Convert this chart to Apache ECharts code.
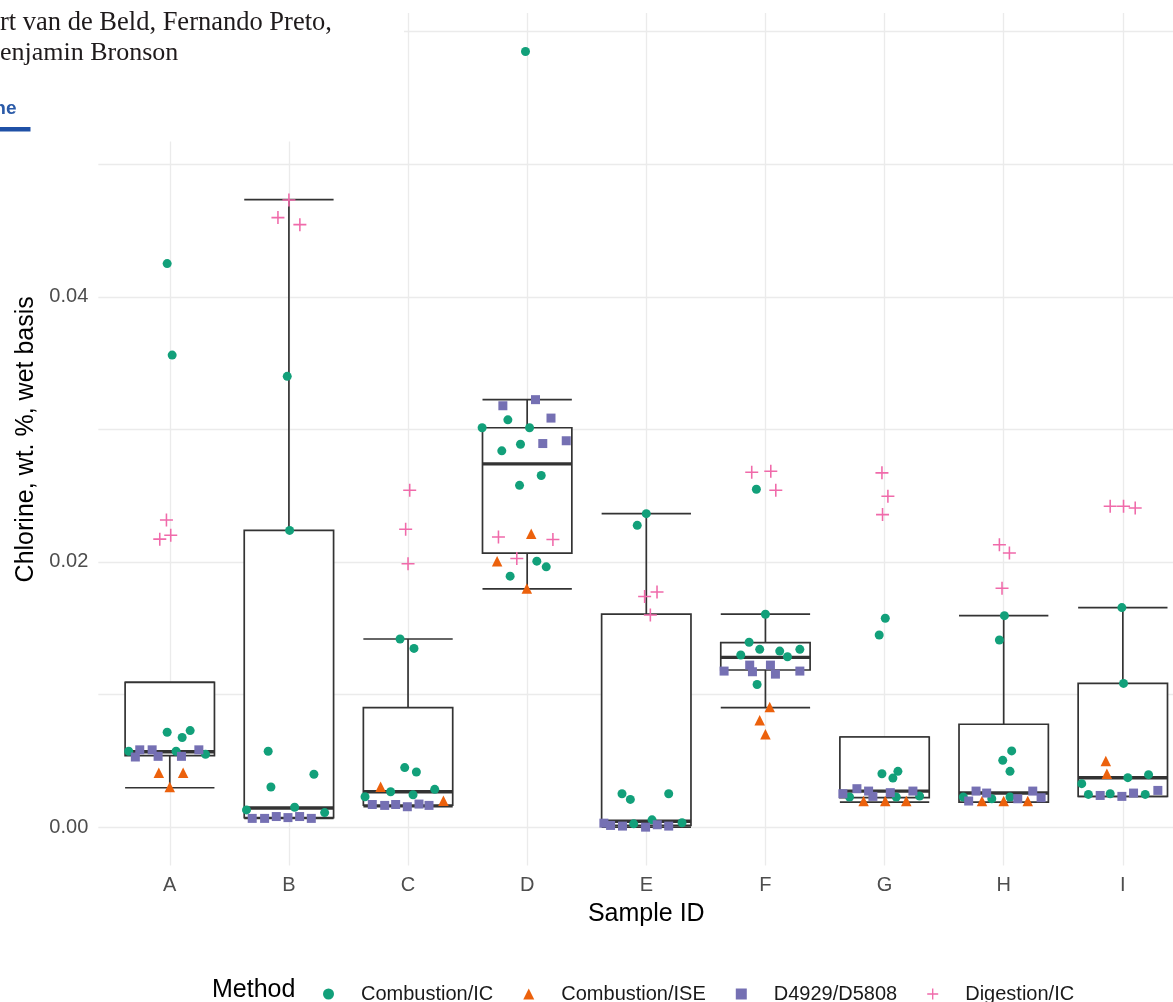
<!DOCTYPE html>
<html>
<head>
<meta charset="utf-8">
<script src="https://cdn.jsdelivr.net/npm/echarts@6/dist/echarts.min.js"></script>
<style>
  html, body { margin: 0; padding: 0; overflow: hidden; background: #ffffff; }
  #chart { width: 1200px; height: 1002px; }
</style>
</head>
<body>
<div id="chart"></div>
<script>
// Sample IDs along the x axis
const samples = ['A', 'B', 'C', 'D', 'E', 'F', 'G', 'H', 'I'];

// y axis: labelled breaks and gridline breaks
const yLabelBreaks = [0, 0.02, 0.04];
const yGridBreaks = [0, 0.01, 0.02, 0.03, 0.04, 0.05, 0.06];

// Box summaries per sample (lower whisker, Q1, median, Q3, upper whisker)
const boxLow    = [0.00297, 0.00066, 0.00154, 0.01797, 0.00000, 0.00902, 0.00189, 0.00189, 0.00232];
const boxQ1     = [0.00540, 0.00072, 0.00166, 0.02067, 0.00013, 0.01185, 0.00222, 0.00189, 0.00232];
const boxMedian = [0.00569, 0.00144, 0.00267, 0.02740, 0.00045, 0.01280, 0.00272, 0.00257, 0.00373];
const boxQ3     = [0.01092, 0.02238, 0.00902, 0.03012, 0.01606, 0.01391, 0.00680, 0.00776, 0.01084];
const boxHigh   = [0.01092, 0.04733, 0.01419, 0.03224, 0.02364, 0.01606, 0.00680, 0.01595, 0.01656];

// Measurements: [sample, chlorine wt. %]
const combustionIC = [
  ['A', 0.0425], ['A', 0.0356], ['A', 0.00716], ['A', 0.00676], ['A', 0.00728], ['A', 0.00572], ['A', 0.00572], ['A', 0.00549],
  ['B', 0.0340], ['B', 0.02238], ['B', 0.00572], ['B', 0.00303], ['B', 0.00399], ['B', 0.0013], ['B', 0.0015], ['B', 0.0011],
  ['C', 0.01419], ['C', 0.01348], ['C', 0.00449], ['C', 0.00416], ['C', 0.00267], ['C', 0.00244], ['C', 0.00285], ['C', 0.00229],
  ['D', 0.0585], ['D', 0.03072], ['D', 0.03012], ['D', 0.03012], ['D', 0.02888], ['D', 0.02838], ['D', 0.02652], ['D', 0.02578], ['D', 0.02006], ['D', 0.01963], ['D', 0.01893],
  ['E', 0.02364], ['E', 0.02276], ['E', 0.00252], ['E', 0.00209], ['E', 0.00252], ['E', 0.00055], ['E', 0.00025], ['E', 0.00033],
  ['F', 0.02548], ['F', 0.01606], ['F', 0.01394], ['F', 0.01341], ['F', 0.01328], ['F', 0.01341], ['F', 0.01298], ['F', 0.01285], ['F', 0.01076],
  ['G', 0.01575], ['G', 0.01449], ['G', 0.00403], ['G', 0.0037], ['G', 0.00421], ['G', 0.00227], ['G', 0.00227], ['G', 0.00234],
  ['H', 0.01595], ['H', 0.01411], ['H', 0.00575], ['H', 0.00504], ['H', 0.00421], ['H', 0.00227], ['H', 0.00214], ['H', 0.00227],
  ['I', 0.01656], ['I', 0.01084], ['I', 0.00373], ['I', 0.00396], ['I', 0.00328], ['I', 0.00247], ['I', 0.00252], ['I', 0.00247]
];
const combustionICJitter = [
  -0.022, 0.02, -0.022, 0.104, 0.171, -0.345, 0.053, 0.30,
  -0.014, 0.006, -0.174, -0.151, 0.21, -0.356, 0.048, 0.30,
  -0.067, 0.05, -0.028, 0.07, -0.146, 0.042, 0.224, -0.361,
  -0.014, -0.162, -0.378, 0.02, -0.056, -0.213, 0.118, -0.064, 0.081, 0.16, -0.143,
  0, -0.076, -0.204, -0.134, 0.188, 0.048, -0.106, 0.30,
  -0.076, 0, -0.137, -0.048, 0.12, 0.289, -0.207, 0.185, -0.07,
  0.006, -0.045, -0.022, 0.07, 0.112, -0.294, 0.098, 0.294,
  0.006, -0.036, 0.067, -0.008, 0.053, -0.339, -0.1, 0.053,
  -0.008, 0.006, 0.042, 0.216, -0.345, -0.289, -0.106, 0.188
];

const combustionISE = [
  ['A', 0.0041], ['A', 0.0041], ['A', 0.00303],
  ['C', 0.00305], ['C', 0.00199],
  ['D', 0.02213], ['D', 0.02006], ['D', 0.0180],
  ['F', 0.00907], ['F', 0.00807], ['F', 0.00701],
  ['G', 0.00197], ['G', 0.00197], ['G', 0.00197],
  ['H', 0.00197], ['H', 0.00197], ['H', 0.00197],
  ['I', 0.00499], ['I', 0.00403]
];
const combustionISEJitter = [
  -0.092, 0.112, 0,
  -0.23, 0.297,
  0.034, -0.252, -0.003,
  0.036, -0.048, 0,
  -0.176, 0.006, 0.182,
  -0.182, 0, 0.202,
  -0.143, -0.134
];

const d4929 = [
  ['A', 0.00583], ['A', 0.00583], ['A', 0.00529], ['A', 0.00534], ['A', 0.00583], ['A', 0.00534],
  ['B', 0.00066], ['B', 0.00066], ['B', 0.0008], ['B', 0.00072], ['B', 0.0008], ['B', 0.00066],
  ['C', 0.00171], ['C', 0.00164], ['C', 0.00171], ['C', 0.00154], ['C', 0.00174], ['C', 0.00164],
  ['D', 0.03224], ['D', 0.03178], ['D', 0.03085], ['D', 0.02893], ['D', 0.02914],
  ['E', 0.0003], ['E', 0.00013], ['E', 0.00008], ['E', 0.0], ['E', 0.00018], ['E', 0.00008],
  ['F', 0.01177], ['F', 0.01222], ['F', 0.01172], ['F', 0.01222], ['F', 0.01154], ['F', 0.01177],
  ['G', 0.00252], ['G', 0.0029], ['G', 0.00272], ['G', 0.00232], ['G', 0.0026], ['G', 0.00272],
  ['H', 0.00272], ['H', 0.00257], ['H', 0.00197], ['H', 0.00214], ['H', 0.00272], ['H', 0.00222],
  ['I', 0.00239], ['I', 0.00232], ['I', 0.00257], ['I', 0.00277]
];
const d4929Jitter = [
  -0.252, -0.148, -0.289, -0.098, 0.244, 0.098,
  -0.308, -0.204, -0.106, -0.008, 0.09, 0.188,
  -0.30, -0.196, -0.104, -0.006, 0.092, 0.176,
  0.07, -0.204, 0.20, 0.131, 0.328,
  -0.356, -0.30, -0.20, -0.006, 0.092, 0.188,
  -0.347, -0.132, -0.109, 0.042, 0.084, 0.289,
  -0.35, -0.232, -0.134, -0.098, 0.048, 0.238,
  -0.232, -0.143, -0.294, 0.118, 0.244, 0.314,
  -0.19, -0.008, 0.09, 0.294
];

const digestionIC = [
  ['A', 0.02316], ['A', 0.02172], ['A', 0.02201],
  ['B', 0.0473], ['B', 0.04597], ['B', 0.04544],
  ['C', 0.02541], ['C', 0.02246], ['C', 0.01986],
  ['D', 0.02188], ['D', 0.0217], ['D', 0.02026],
  ['E', 0.01739], ['E', 0.01774], ['E', 0.0160],
  ['F', 0.02677], ['F', 0.02684], ['F', 0.02541],
  ['G', 0.02672], ['G', 0.02495], ['G', 0.02357],
  ['H', 0.0213], ['H', 0.02067], ['H', 0.01802],
  ['I', 0.0242], ['I', 0.0242], ['I', 0.02407]
];
const digestionICJitter = [
  -0.028, -0.084, 0.008,
  0, -0.092, 0.092,
  0.014, -0.02, 0,
  -0.241, 0.216, -0.087,
  -0.014, 0.09, 0.034,
  -0.115, 0.045, 0.087,
  -0.022, 0.028, -0.017,
  -0.036, 0.048, -0.014,
  -0.106, 0.006, 0.104
];

const methodNames = ['Combustion/IC', 'Combustion/ISE', 'D4929/D5808', 'Digestion/IC'];
const methodColors = ['#12a07a', '#ec610c', '#7570b3', '#f06aaa'];
const PLUS = 'path://M4.4,0H5.6V4.4H10V5.6H5.6V10H4.4V5.6H0V4.4H4.4Z';

const SANS = '"Liberation Sans", Arial, Helvetica, sans-serif';
const BOX_WIDTH = 0.75;
const LINE = '#333333';

function toPoints(rows, jitter) {
  return rows.map((r, i) => [samples.indexOf(r[0]) + jitter[i], r[1]]);
}

const boxData = samples.map((s, i) => [i, boxLow[i], boxQ1[i], boxMedian[i], boxQ3[i], boxHigh[i]]);

function renderBox(params, api) {
  const x = api.value(0);
  const lo = api.value(1), q1 = api.value(2), md = api.value(3), q3 = api.value(4), hi = api.value(5);
  const half = BOX_WIDTH / 2;
  const xl = api.coord([x - half, 0])[0];
  const xr = api.coord([x + half, 0])[0];
  const xc = api.coord([x, 0])[0];
  const y = v => api.coord([x, v])[1];
  const st = { stroke: LINE, lineWidth: 1.7, fill: null };
  return {
    type: 'group',
    children: [
      { type: 'line', shape: { x1: xc, y1: y(q3), x2: xc, y2: y(hi) }, style: st },
      { type: 'line', shape: { x1: xc, y1: y(q1), x2: xc, y2: y(lo) }, style: st },
      { type: 'line', shape: { x1: xl, y1: y(hi), x2: xr, y2: y(hi) }, style: st },
      { type: 'line', shape: { x1: xl, y1: y(lo), x2: xr, y2: y(lo) }, style: st },
      { type: 'rect', shape: { x: xl, y: y(q3), width: xr - xl, height: y(q1) - y(q3) },
        style: { fill: '#ffffff', stroke: LINE, lineWidth: 1.7 } },
      { type: 'line', shape: { x1: xl, y1: y(md), x2: xr, y2: y(md) },
        style: { stroke: LINE, lineWidth: 3.4 } }
    ]
  };
}

function scatter(name, rows, jitter, symbol, size, color) {
  return {
    name: name,
    type: 'scatter',
    data: toPoints(rows, jitter),
    symbol: symbol,
    symbolSize: size,
    itemStyle: { color: color, opacity: 1 },
    emphasis: { disabled: true },
    z: 3
  };
}

const chart = echarts.init(document.getElementById('chart'), null, { renderer: 'canvas' });
chart.setOption({
  animation: false,
  backgroundColor: '#ffffff',
  textStyle: { fontFamily: SANS },
  grid: { left: 98.3, top: 13, width: 1096, height: 852.6, outerBoundsMode: 'none', containLabel: false },
  xAxis: {
    type: 'value',
    min: -0.6,
    max: 8.6,
    name: 'Sample ID',
    nameLocation: 'middle',
    nameGap: 36,
    nameTextStyle: { fontSize: 25, color: '#000000', fontFamily: SANS },
    axisLine: { show: false },
    axisTick: { show: false, customValues: samples.map((s, i) => i) },
    axisLabel: {
      customValues: samples.map((s, i) => i),
      formatter: v => samples[Math.round(v)],
      fontSize: 20, color: '#4d4d4d', margin: 10, fontFamily: SANS
    },
    splitLine: { show: true, lineStyle: { color: '#ebebeb', width: 1.3 } }
  },
  yAxis: {
    type: 'value',
    min: -0.0029,
    max: 0.0614,
    name: 'Chlorine, wt. %, wet basis',
    nameLocation: 'middle',
    nameRotate: 90,
    nameGap: 53,
    nameTextStyle: { fontSize: 25, color: '#000000', fontFamily: SANS },
    axisLine: { show: false },
    axisTick: { show: false, customValues: yGridBreaks },
    axisLabel: {
      customValues: yLabelBreaks,
      formatter: v => v.toFixed(2),
      fontSize: 20, color: '#4d4d4d', margin: 10, fontFamily: SANS
    },
    splitLine: { show: true, lineStyle: { color: '#ebebeb', width: 1.3 } }
  },
  legend: {
    data: methodNames,
    left: 318,
    top: 979,
    itemWidth: 11,
    itemHeight: 11,
    itemGap: 30,
    selectedMode: false,
    textStyle: { fontSize: 20, color: '#1a1a1a', fontFamily: SANS, padding: [0, 0, 0, 22] }
  },
  graphic: [
    { type: 'text', x: 212, y: 990, z: 10,
      style: { text: 'Method', font: '25px ' + SANS, fill: '#000000', verticalAlign: 'middle', align: 'left' } },
    // page header strip across the top-left corner
    { type: 'rect', x: 0, y: 0, z: 100, shape: { width: 404, height: 141.5 }, style: { fill: '#ffffff' } },
    { type: 'text', x: 0, y: 23.5, z: 101,
      style: { text: 'rt van de Beld, Fernando Preto,', font: '26.5px "Liberation Serif", "Times New Roman", serif',
               fill: '#1e1a1b', verticalAlign: 'middle', align: 'left' } },
    { type: 'text', x: 0, y: 53, z: 101,
      style: { text: 'enjamin Bronson', font: '26px "Liberation Serif", "Times New Roman", serif',
               fill: '#1e1a1b', verticalAlign: 'middle', align: 'left' } },
    { type: 'text', x: 16.5, y: 109, z: 101,
      style: { text: 'ne', font: 'bold 19px ' + SANS, fill: '#2a5aa8', verticalAlign: 'middle', align: 'right' } },
    { type: 'rect', x: 0, y: 127, z: 101, shape: { width: 30.5, height: 4.5 }, style: { fill: '#1f50a6' } }
  ],
  series: [
    {
      name: 'boxes',
      type: 'custom',
      renderItem: renderBox,
      data: boxData,
      encode: { x: 0, y: [1, 2, 3, 4, 5] },
      silent: true,
      z: 2
    },
    scatter(methodNames[0], combustionIC, combustionICJitter, 'circle', 9, methodColors[0]),
    scatter(methodNames[1], combustionISE, combustionISEJitter, 'triangle', 10.5, methodColors[1]),
    scatter(methodNames[2], d4929, d4929Jitter, 'rect', 9, methodColors[2]),
    scatter(methodNames[3], digestionIC, digestionICJitter, PLUS, 13, methodColors[3])
  ]
});
</script>
</body>
</html>
